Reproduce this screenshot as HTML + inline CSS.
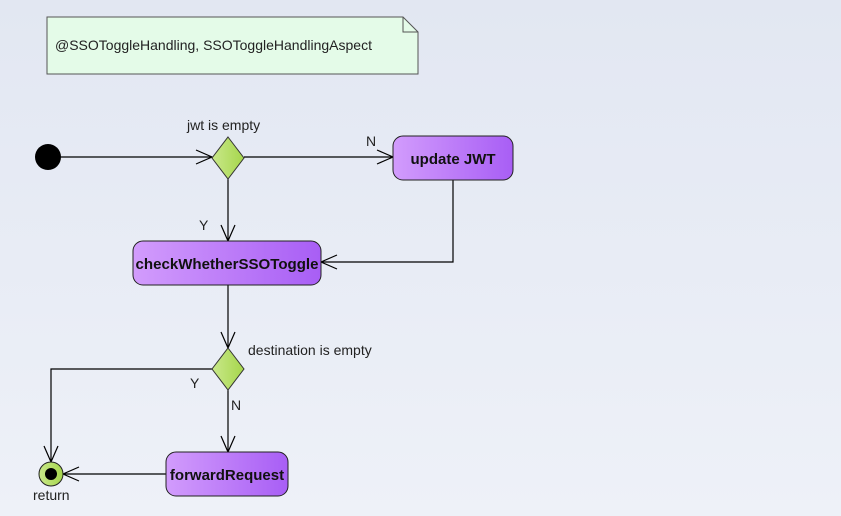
<!DOCTYPE html>
<html><head><style>
html,body{margin:0;width:841px;height:516px;overflow:hidden;background:linear-gradient(#e2e7f2,#eef1f8);font-family:"Liberation Sans",sans-serif;}
svg{display:block}
</style></head><body>
<svg width="841" height="516" xmlns="http://www.w3.org/2000/svg" font-family="Liberation Sans, sans-serif">
<defs>
<linearGradient id="p" x1="0" x2="1"><stop offset="0" stop-color="#d29cfc"/><stop offset="1" stop-color="#a85ef5"/></linearGradient>
<linearGradient id="g" x1="0" x2="1"><stop offset="0" stop-color="#c9e88a"/><stop offset="1" stop-color="#a6d64c"/></linearGradient>
</defs>
<path d="M47,17 H403 L418,32 V74 H47 Z" fill="#e4fbe8" stroke="#555" stroke-width="1"/>
<path d="M403,17 V32 H418" fill="none" stroke="#555"/>
<text x="55" y="50" font-size="14" fill="#222">@SSOToggleHandling, SSOToggleHandlingAspect</text>
<g stroke="#000" stroke-width="1.2" fill="none">
<line x1="60" y1="157" x2="212" y2="157"/><path d="M196,150 L212,157 L196,164"/>
<line x1="244" y1="157" x2="393" y2="157"/><path d="M377,150 L393,157 L377,164"/>
<line x1="228" y1="179" x2="228" y2="241"/><path d="M221,225 L228,241 L235,225"/>
<polyline points="453,180 453,262 321,262"/><path d="M337,255 L321,262 L337,269"/>
<line x1="228" y1="285" x2="228" y2="348"/><path d="M221,332 L228,348 L235,332"/>
<polyline points="212,369 51,369 51,462"/><path d="M44,446 L51,462 L58,446"/>
<line x1="228" y1="390" x2="228" y2="452"/><path d="M221,436 L228,452 L235,436"/>
<line x1="166" y1="474" x2="63" y2="474"/><path d="M79,467 L63,474 L79,481"/>
</g>
<circle cx="48" cy="157" r="13" fill="#000"/>
<polygon points="228,137 244,158 228,179 212,158" fill="url(#g)" stroke="#333"/>
<polygon points="228,348 244,369 228,390 212,369" fill="url(#g)" stroke="#333"/>
<rect x="393" y="136" width="120" height="44" rx="10" fill="url(#p)" stroke="#222"/>
<rect x="133" y="241" width="188" height="44" rx="10" fill="url(#p)" stroke="#222"/>
<rect x="166" y="452" width="122" height="44" rx="10" fill="url(#p)" stroke="#222"/>
<g font-weight="bold" font-size="15" fill="#111" text-anchor="middle">
<text x="453" y="164">update JWT</text>
<text x="227" y="269" textLength="183" lengthAdjust="spacingAndGlyphs">checkWhetherSSOToggle</text>
<text x="227" y="480">forwardRequest</text>
</g>
<circle cx="51" cy="474" r="12" fill="url(#g)" stroke="#222"/>
<circle cx="51" cy="474" r="6" fill="#000"/>
<g font-size="14" fill="#222">
<text x="187" y="130">jwt is empty</text>
<text x="366" y="146">N</text>
<text x="199" y="230">Y</text>
<text x="248" y="355">destination is empty</text>
<text x="190" y="388">Y</text>
<text x="231" y="410">N</text>
<text x="33" y="500">return</text>
</g>
</svg>
</body></html>
